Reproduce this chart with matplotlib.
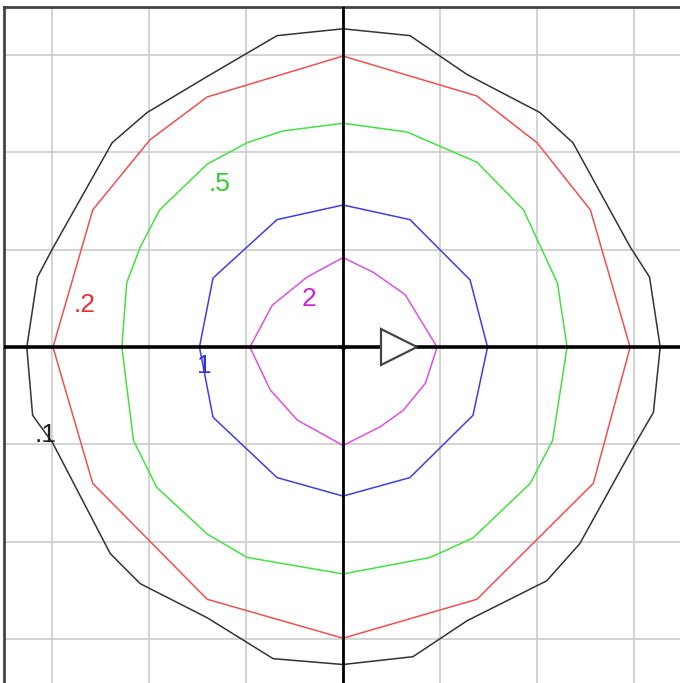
import matplotlib
matplotlib.use("Agg")
import matplotlib.pyplot as plt

# Contour vertices (grid units)
mag_x = [0, 0.31, 0.64, 0.97, 0.85, 0.62, 0.38, 0, -0.47, -0.75, -0.96, -0.73, -0.37]
mag_y = [0.92, 0.77, 0.54, 0, -0.37, -0.65, -0.82, -1.01, -0.75, -0.44, 0, 0.43, 0.72]

blue_x = [0, 0.69, 1.31, 1.49, 1.34, 0.69, 0, -0.68, -1.34, -1.48, -1.34, -0.68]
blue_y = [1.46, 1.31, 0.69, 0, -0.70, -1.34, -1.53, -1.34, -0.72, 0, 0.71, 1.31]

green_x = [0, 0.66, 1.38, 1.86, 2.21, 2.31, 2.16, 1.93, 1.34, 0.90, 0,
           -0.99, -1.40, -1.92, -2.16, -2.28, -2.23, -2.09, -1.89, -1.40, -0.99, -0.62]
green_y = [2.30, 2.21, 1.90, 1.41, 0.66, 0, -0.96, -1.40, -1.96, -2.16, -2.33,
           -2.16, -1.92, -1.44, -0.96, 0, 0.66, 1.03, 1.41, 1.88, 2.10, 2.22]

red_x = [0, 1.38, 2.00, 2.55, 2.96, 2.58, 1.38, 0, -1.40, -2.58, -2.99, -2.58, -1.99, -1.40]
red_y = [2.99, 2.58, 2.10, 1.41, 0, -1.40, -2.59, -2.99, -2.59, -1.40, 0, 1.41, 2.13, 2.57]

black_x = [0, 0.69, 1.28, 2.03, 2.37, 2.96, 3.16, 3.27, 3.20, 2.99, 2.44, 2.10, 1.28, 0.72,
           0, -0.72, -1.40, -2.09, -2.40, -2.99, -3.20, -3.26, -3.15, -2.99, -2.38, -2.02,
           -1.40, -0.68]
black_y = [3.27, 3.20, 2.80, 2.41, 2.10, 1.03, 0.72, 0, -0.67, -1.03, -2.02, -2.40, -2.81, -3.18,
           -3.26, -3.20, -2.78, -2.43, -2.12, -0.99, -0.70, 0, 0.72, 1.02, 2.10, 2.41,
           2.78, 3.20]

labels = ["2", "1", ".5", ".2", ".1"]
label_x = [-0.35, -1.43, -1.27, -2.66, -3.07]
label_y = [0.49, -0.19, 1.68, 0.43, -0.90]

grid_ticks = [-3, -2, -1, 0, 1, 2, 3]

curves = [
    (mag_x, mag_y, "#e050e0"),
    (blue_x, blue_y, "#4040dc"),
    (green_x, green_y, "#44e044"),
    (red_x, red_y, "#f05050"),
    (black_x, black_y, "#333333"),
]
text_colors = ["#d020d0", "#3030e0", "#30cc30", "#e83030", "#222222"]

fig = plt.figure(figsize=(6.8, 6.83), dpi=100)
ax = fig.add_axes([4 / 680, 0, 676 / 680, 676 / 683])
ax.set_xlim(-3.495, 3.474)
ax.set_ylim(-3.45, 3.494)

ax.set_xticks(grid_ticks)
ax.set_yticks(grid_ticks)
ax.tick_params(length=0, labelbottom=False, labelleft=False)
ax.grid(True, color="#cccccc", linewidth=1.2)
ax.set_axisbelow(True)

for side in ["right", "bottom"]:
    ax.spines[side].set_visible(False)
for side in ["left", "top"]:
    ax.spines[side].set_color("#444444")
    ax.spines[side].set_linewidth(2)

# main axes
ax.axhline(0, color="black", linewidth=2.6, zorder=3)
ax.axvline(0, color="black", linewidth=2.0, zorder=3)
ax.plot([0], [0], "o", color="black", markersize=3, zorder=4)

for xs, ys, c in curves:
    ax.plot(xs + xs[:1], ys + ys[:1], color=c, linewidth=1.1, zorder=2)

for t, x, y, c in zip(labels, label_x, label_y, text_colors):
    ax.text(x, y, t, color=c, fontsize=19, family="Liberation Sans",
            ha="center", va="center", zorder=5)

# direction arrow
ax.plot([0.58], [0], marker=">", markersize=26, markerfacecolor="white",
        markeredgecolor="#444444", markeredgewidth=1.6, zorder=4)

fig.savefig("out.png", dpi=100)
